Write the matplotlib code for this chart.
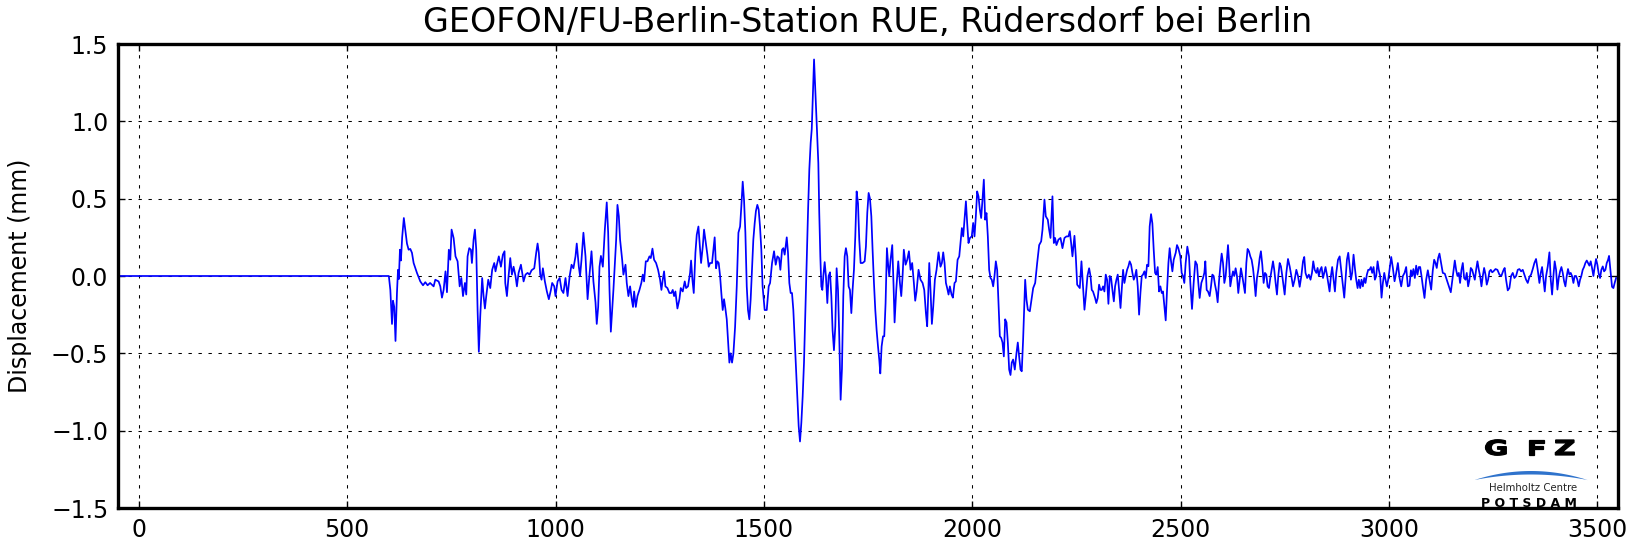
import matplotlib
matplotlib.use('Agg')
import matplotlib.pyplot as plt
import numpy as np
from matplotlib.patches import Polygon, PathPatch
from matplotlib.textpath import TextPath
from matplotlib.font_manager import FontProperties
from matplotlib.transforms import Affine2D

plt.rcParams['font.family'] = ['DejaVu Sans']
plt.rcParams['lines.scale_dashes'] = False

# ---------------- data (time in s, displacement in mm) ----------------
t_a = [-50, 600, 603.6, 607.6, 610, 613, 616, 619.5, 622, 624,
       626.7, 629, 632, 636, 639.5, 643.5, 647.5, 651.5, 655.5, 659.5,
       667.5, 675.5, 682, 687.5, 693, 699, 707.5, 711.5, 719.5, 723.5,
       727.5, 731.5, 736, 739.5, 744, 747.5, 750.6, 755.5, 760, 765,
       770, 774, 778, 782.6, 785.8, 789, 793, 797, 799.4, 803.4,
       806.6, 809.8, 813, 816, 819.4, 824, 827.4, 830.6, 833.8, 838.6,
       843.4, 848, 853, 856, 859.3, 864, 869, 873.7, 877.7]
y_a = [0, 0, -0.09, -0.31, -0.16, -0.2, -0.42, -0.11, 0.04, -0.02,
       0.17, 0.1, 0.25, 0.375, 0.30, 0.21, 0.17, 0.175, 0.15, 0.084,
       0.02, -0.035, -0.06, -0.04, -0.06, -0.045, -0.067, -0.024, -0.035, -0.067,
       -0.14, -0.09, 0.03, -0.105, 0.17, 0.105, 0.30, 0.245, 0.127, 0.095,
       -0.067, -0.013, -0.13, -0.045, -0.12, 0.127, 0.18, 0.17, 0.084, 0.235,
       0.30, 0.17, -0.22, -0.49, -0.26, -0.013, -0.13, -0.21, -0.13, -0.024,
       -0.078, 0.04, 0.084, 0.03, 0.073, 0.127, 0.06, 0.138, 0.16]

t_b = [879.4, 883.4, 887.4, 891.4, 895.4, 899.4, 904, 907.4, 911.4, 917,
       923.4, 928, 933, 937.7, 942.5, 949, 953.7, 957, 960, 963.3,
       966.5, 969.7, 974.5, 979.3, 984, 989, 992, 997, 1000, 1005,
       1010, 1014.5, 1019, 1024, 1029, 1034, 1038.5, 1043, 1048, 1051,
       1056, 1059, 1062.4, 1067, 1072, 1077, 1081.6, 1086.4, 1091, 1096,
       1099, 1102.4, 1105.6, 1109, 1113.6, 1118.4, 1123, 1126.4, 1129.6, 1132.8,
       1136, 1139, 1142.4, 1145.6, 1148.7, 1152, 1155, 1160, 1163, 1168,
       1171, 1175, 1179, 1183]
y_b = [-0.045, -0.13, 0, 0.116, 0.009, 0.06, 0, -0.067, 0.02, 0.073,
       -0.035, 0.009, 0.02, 0.009, 0.037, 0.05, 0.15, 0.21, 0.15, 0.009,
       -0.024, 0.05, -0.035, -0.1, -0.15, -0.09, -0.045, -0.067, -0.13, -0.035,
       -0.013, -0.09, -0.11, -0.013, -0.13, 0, 0.073, 0.05, 0.127, 0.21,
       0.06, 0, 0.105, 0.28, 0.127, -0.15, 0.009, 0.16, -0.035, -0.17,
       -0.31, -0.2, 0.06, 0.13, 0.06, 0.30, 0.476, 0.28, -0.09, -0.36,
       -0.22, -0.09, 0.084, 0.235, 0.46, 0.386, 0.235, 0.105, 0.009, 0.073,
       -0.045, -0.13, -0.067, -0.15]

t_c = [1186, 1188.7, 1192.7, 1196.7, 1201.5, 1206, 1209.5, 1212.6, 1216.7, 1220.7,
       1225.5, 1228.7, 1232.7, 1236.6, 1241.4, 1246.2, 1251, 1254.2, 1257.4, 1260.6,
       1263.8, 1268.6, 1273.4, 1278, 1281.4, 1284.6, 1287.8, 1292.6, 1297.4, 1300.6,
       1305.4, 1310.2, 1313.4, 1318, 1323, 1325.4, 1328.6, 1331.8, 1335.8, 1339,
       1343, 1346, 1349.4, 1353.4, 1356.5, 1359.7, 1364.5, 1367.7, 1371, 1375.7,
       1379, 1382, 1385.3, 1388.5, 1391.7, 1395, 1398, 1401.3, 1404.5, 1407.7,
       1411, 1414, 1417.3, 1420.5, 1423.7, 1427, 1431, 1435, 1439, 1443,
       1446, 1449.3, 1452.5, 1455.7, 1459, 1462, 1465.2, 1468.4, 1471.6, 1474.8,
       1478, 1481, 1484.4, 1487.6, 1490.8, 1494, 1497]
y_c = [-0.2, -0.1, -0.2, -0.13, -0.09, -0.045, 0.009, -0.035, 0.095, 0.095,
       0.127, 0.116, 0.177, 0.105, 0.084, 0.04, -0.024, -0.09, -0.024, 0.03,
       -0.067, -0.078, -0.11, -0.11, -0.09, -0.13, -0.1, -0.21, -0.15, -0.078,
       -0.1, -0.035, -0.078, -0.067, 0.02, 0.1, -0.024, -0.11, 0.15, 0.267,
       0.32, 0.21, 0.084, 0.19, 0.30, 0.235, 0.138, 0.06, 0.084, 0.084,
       0.17, 0.25, 0.05, 0.095, 0.084, 0, -0.11, -0.22, -0.15, -0.21,
       -0.28, -0.41, -0.56, -0.5, -0.56, -0.5, -0.33, -0.067, 0.28, 0.32,
       0.45, 0.61, 0.49, 0.28, -0.067, -0.22, -0.28, -0.15, 0.04, 0.235,
       0.34, 0.42, 0.46, 0.43, 0.32, 0.17, -0.067]

t_d = [1502, 1507, 1511.7, 1515, 1519.7, 1524.5, 1528.5, 1532.5, 1536.5, 1539.7,
       1543.7, 1546.9, 1550, 1555, 1558, 1561.2, 1564.4, 1567.6, 1570.8, 1574,
       1577.2, 1580.4, 1583.6, 1586.8, 1590, 1593.2, 1596.4, 1599.6, 1602.8, 1606,
       1609.2, 1612.4, 1615, 1620.5, 1627.5, 1630.8, 1633, 1635.6, 1638, 1640.4,
       1642.8, 1646, 1649, 1652.4, 1655.5, 1658.8, 1662, 1665, 1668.3, 1671.5,
       1674.7, 1678, 1681, 1684.3, 1687.5, 1690.7, 1694, 1697, 1700.3, 1703.5,
       1706.7, 1710, 1713, 1716.3, 1719.5, 1722.7, 1726, 1729, 1732.3, 1737,
       1742, 1745, 1748.3, 1751.5, 1754.7, 1758, 1761, 1764.3, 1767.5, 1770.7,
       1774, 1777, 1779.5, 1782.7, 1786, 1789, 1792.2, 1795.4, 1798.6, 1801,
       1804.2, 1808.2, 1811.4]
y_d = [-0.22, -0.22, -0.067, -0.045, 0.084, 0.16, 0.073, 0.127, 0.116, 0.04,
       0.17, 0.18, 0.138, 0.25, 0.15, -0.045, -0.11, -0.11, -0.22, -0.41,
       -0.6, -0.78, -0.97, -1.07, -0.95, -0.78, -0.56, -0.24, 0.084, 0.41,
       0.69, 0.86, 0.95, 1.40, 0.95, 0.73, 0.41, 0.127, -0.067, -0.09,
       0, 0.09, 0, -0.175, 0, 0.024, -0.13, -0.35, -0.48, -0.325,
       0.05, -0.09, -0.39, -0.8, -0.6, -0.13, 0.127, 0.18, 0.127, -0.067,
       -0.09, -0.24, -0.09, 0.04, 0.256, 0.547, 0.47, 0.235, 0.084, 0.084,
       0.095, 0.19, 0.41, 0.537, 0.5, 0.386, 0.17, -0.045, -0.22, -0.35,
       -0.455, -0.54, -0.63, -0.455, -0.39, -0.39, -0.175, 0.18, 0.063, 0,
       0.105, 0.2, -0.067]

t_e = [1813.8, 1817.8, 1822.6, 1826.6, 1829.8, 1833, 1836, 1840.2, 1844.2, 1848.2,
       1852.2, 1856, 1860.1, 1863.3, 1866.5, 1871.3, 1876, 1881, 1885, 1889,
       1892, 1897, 1900, 1903.3, 1906.5, 1910.5, 1914.5, 1919.3, 1924, 1927.3,
       1930.5, 1933.7, 1937, 1940, 1943.3, 1946.5, 1950.5, 1953.7, 1957.7, 1960.9,
       1965, 1969, 1972, 1975.3, 1978.5, 1981.7, 1985, 1988, 1991.2, 1994.4,
       1999, 2002.4, 2005.6, 2008.8, 2012, 2015.2, 2018.4, 2021.6, 2024.8, 2028,
       2031.2, 2034.4, 2037.6, 2040.8, 2044, 2047, 2050.4, 2053.6, 2056.8, 2060,
       2063.2, 2066.4, 2069.6, 2072.8, 2076, 2079.2, 2082.4, 2085.6, 2088.8, 2092,
       2095, 2098.3, 2102.3, 2106.3, 2109.5, 2112.7, 2116, 2119, 2122.3]
y_e = [-0.30, -0.09, 0.095, -0.045, -0.13, 0, 0.17, 0.073, 0.105, 0.16,
       0.04, 0.084, -0.045, -0.16, -0.1, 0.04, -0.024, -0.045, -0.09, -0.24,
       -0.325, 0.084, -0.09, -0.31, -0.2, -0.024, 0.04, 0.153, 0.06, 0.084,
       0.153, 0.084, -0.045, -0.078, -0.12, -0.067, -0.12, -0.14, -0.045, -0.035,
       0.105, 0.127, 0.213, 0.31, 0.256, 0.364, 0.483, 0.343, 0.213, 0.245,
       0.256, 0.343, 0.256, 0.386, 0.547, 0.515, 0.43, 0.375, 0.494, 0.623,
       0.364, 0.407, 0.256, 0.04, -0.013, -0.024, -0.067, 0, 0.095, 0.04,
       -0.175, -0.39, -0.4, -0.43, -0.52, -0.28, -0.30, -0.43, -0.605, -0.64,
       -0.56, -0.54, -0.605, -0.5, -0.43, -0.52, -0.605, -0.616, -0.41]

t_f = [2127.2, 2130.4, 2133.6, 2138.4, 2142.4, 2146.4, 2151.2, 2156, 2160.8, 2165.6,
       2168.8, 2173.5, 2176.7, 2181.5, 2184.7, 2188, 2192.7, 2196, 2199, 2202.3,
       2207, 2212, 2216.7, 2221.5, 2226.3, 2231, 2234.3, 2237.5, 2240.7, 2245.5,
       2248.7, 2252, 2255, 2258.3, 2262.3, 2265.5, 2269.5, 2272.7, 2276.7, 2280.7,
       2284, 2287, 2290, 2295, 2298, 2301.4, 2304.6, 2307.8, 2311, 2314.2,
       2317.4, 2320.6, 2323.8, 2327, 2330.2, 2333.4, 2336.6, 2340, 2343, 2346.2,
       2349.4, 2352.6, 2356, 2359, 2362.2, 2365.4, 2368.6, 2371.8, 2375, 2378,
       2381.4, 2384.6, 2387.8, 2391, 2394, 2397.4, 2400.6, 2403.8, 2407, 2410,
       2413.4, 2416.6, 2419.7, 2423]
y_f = [-0.024, -0.153, -0.218, -0.228, -0.153, -0.078, -0.045, 0.084, 0.2, 0.224,
       0.3, 0.494, 0.386, 0.364, 0.3, 0.246, 0.515, 0.213, 0.246, 0.2,
       0.235, 0.246, 0.18, 0.246, 0.256, 0.256, 0.29, 0.213, 0.127, 0.26,
       0.127, -0.056, -0.067, -0.078, 0.095, -0.045, -0.218, -0.13, 0, 0.05,
       0, -0.09, -0.1, -0.142, -0.175, -0.142, -0.056, -0.09, -0.09, -0.067,
       -0.1, 0.009, -0.024, -0.18, 0, -0.013, -0.09, -0.164, -0.067, -0.024,
       0.009, -0.09, -0.207, -0.09, 0.04, -0.045, 0, 0.04, 0.063, 0.095,
       0.073, 0.02, -0.024, 0, 0.04, -0.067, -0.25, -0.11, 0, 0.009,
       0.03, -0.013, 0.073, 0.063]

t_g = [2426, 2429.3, 2432.5, 2435.7, 2439, 2442, 2445.3, 2448.5, 2451.7, 2455,
       2458, 2461.3, 2464.5, 2467.7, 2471, 2474, 2477.3, 2480.5, 2483.7, 2488.5,
       2491.6, 2494.8, 2499.6, 2502.8, 2506, 2509.2, 2512.4, 2516.4, 2520.4, 2523.6,
       2527.6, 2531.6, 2535.6, 2539.6, 2542.8, 2546, 2550, 2554, 2557.2, 2559.6,
       2562.8, 2566, 2570, 2573.2, 2576.4, 2579.6, 2582.8, 2586, 2589.2, 2592.4,
       2595.6, 2598.8, 2602, 2605.2, 2608.4, 2611.6, 2614, 2616.3, 2619.5, 2622.7,
       2626, 2629, 2632.3, 2635.5, 2638.7, 2642, 2645, 2648.3, 2651.5, 2654.7,
       2658, 2661, 2664.3, 2667.5, 2670.7, 2674, 2677, 2680.3, 2683.5, 2686.7,
       2690, 2693, 2696.3, 2699.5, 2702.7, 2706, 2709, 2712.3, 2715.5, 2718.7,
       2722, 2725, 2728.3, 2731.5, 2734.7, 2738, 2741, 2744.3]
y_g = [0.32, 0.40, 0.34, 0.17, 0.02, 0.009, 0.058, -0.1, -0.067, -0.11,
       -0.1, -0.196, -0.287, -0.09, 0.084, 0.18, 0.095, 0.03, 0.105, 0.15,
       0.2, 0.18, 0.127, 0.02, 0, -0.045, 0.084, 0.19, 0.127, -0.045,
       -0.213, -0.045, 0.095, 0.073, -0.045, -0.142, -0.045, -0.013, 0.02, 0.095,
       -0.09, -0.1, -0.13, -0.067, 0.009, 0, -0.056, -0.1, -0.17, -0.035,
       0.063, 0.145, 0.084, -0.045, 0, 0.116, 0.2, 0.105, -0.067, -0.013,
       0.03, 0, 0.05, 0, -0.11, -0.024, 0.05, 0, -0.056, -0.11,
       0.084, 0.175, 0.16, 0.127, 0.105, 0.05, -0.024, -0.13, -0.013, 0.04,
       0.116, 0.16, 0.073, -0.045, 0.02, 0.009, -0.067, -0.078, -0.013, 0.04,
       0.095, 0.04, -0.045, -0.12, 0, 0.084, 0.063, 0]

t_h = [2750, 2754, 2758, 2762, 2766, 2770, 2774, 2778, 2782, 2786,
       2790, 2794, 2797, 2800, 2804, 2808, 2812, 2815.5, 2818.6, 2822,
       2826, 2829, 2832, 2835.4, 2838.6, 2842, 2845, 2848, 2851.4, 2854.6,
       2857.8, 2861, 2864, 2867.4, 2870.6, 2873.8, 2878, 2882, 2886, 2890,
       2893, 2896, 2899.4, 2902.6, 2906, 2909, 2912, 2915.3, 2918.5, 2921.7,
       2925, 2928, 2931.3, 2934.5, 2937.7, 2941, 2944, 2947.3, 2950.5, 2953.7,
       2957, 2960, 2963.3, 2966.5, 2969.7, 2973, 2976, 2979.3, 2982.5, 2985.7,
       2989, 2992, 2995.3, 2998.5, 3001.7, 3005.7, 3009.7, 3013.7, 3017.7, 3021.7,
       3025.7, 3029.7, 3033.7, 3037.7, 3041.6, 3045.6]
y_h = [-0.12, 0.02, 0.11, 0.062, 0, -0.067, -0.024, 0.04, 0, -0.07,
       0, 0.095, 0.123, 0.02, -0.013, 0.009, -0.024, 0.02, 0.095, 0.04,
       0.02, 0.052, 0, 0.04, 0.058, -0.013, 0.02, 0.058, 0.009, -0.045,
       -0.1, 0, 0.058, -0.024, -0.1, 0.02, 0.105, 0.127, 0.03, -0.067,
       -0.14, -0.024, 0.105, 0.15, 0.062, -0.024, 0.02, 0.138, 0.052, -0.024,
       -0.078, -0.024, -0.078, -0.024, -0.067, -0.013, -0.045, 0.009, 0.04, 0.04,
       0.058, 0.02, 0.058, -0.024, 0, 0.095, 0.04, 0, -0.14, -0.045,
       0.02, -0.024, -0.067, -0.024, 0.04, 0.123, 0.052, -0.034, 0.02, 0.084,
       -0.013, -0.067, 0, 0.02, 0.058, -0.067]

t_i = [3049.6, 3053, 3056, 3059, 3062.4, 3065.6, 3068.8, 3072, 3075.2, 3078.4,
       3081.6, 3085.6, 3089.6, 3093.6, 3097.6, 3101.6, 3105.6, 3108.8, 3112, 3115,
       3118.3, 3121.5, 3125.5, 3129.5, 3134.3, 3139, 3144, 3148.7, 3153.5, 3158.3,
       3161.5, 3164.7, 3168, 3171, 3174.3, 3177.5, 3180.7, 3184, 3187, 3190.3,
       3193.5, 3196.7, 3200, 3203, 3206.3, 3209.5, 3212.7, 3216, 3219, 3222.3,
       3225.5, 3228.7, 3232, 3235, 3238.3, 3241.5, 3244.7, 3248, 3251, 3256,
       3260.6, 3265.4, 3270, 3275, 3278, 3281.4, 3285.4, 3289.4, 3293.4, 3297.4,
       3301.4, 3305.4, 3309.4, 3313.4, 3317.4, 3321.4, 3325.4, 3329.4, 3333.4, 3337.4,
       3341.4, 3345.4, 3349.3, 3353.3, 3357.3]
y_i = [-0.062, 0.037, 0, 0.045, -0.013, 0.067, 0.009, 0.058, 0.058, 0,
       -0.067, -0.142, -0.024, 0.037, -0.024, -0.088, 0.04, 0.105, 0.084, 0.052,
       0.116, 0.145, 0.084, 0.02, 0.015, -0.024, -0.067, -0.105, 0, 0.1,
       0.04, 0, 0.02, -0.045, 0.04, 0.084, -0.013, -0.024, 0.02, -0.067,
       -0.024, 0.052, 0.04, 0.009, -0.024, 0.04, 0.095, 0.04, 0, -0.067,
       0, 0.052, 0.009, -0.056, -0.024, 0.03, 0.04, 0.024, 0.03, 0.045,
       0.04, 0.009, 0, 0.037, 0.052, -0.024, -0.093, -0.078, 0, 0.02,
       -0.013, 0, 0.04, 0.045, 0.03, 0.04, 0.009, -0.024, -0.045, -0.006,
       0.009, 0.045, 0.084, 0.11, 0.04]

t_j = [3361.4, 3364.6, 3367.8, 3371, 3374.2, 3377.4, 3381.4, 3385.4, 3388.6, 3391.8,
       3395, 3398, 3401.4, 3404.6, 3407.8, 3411, 3414.2, 3417.4, 3420.6, 3423.8,
       3427, 3430, 3433.3, 3436.5, 3439.7, 3443, 3446, 3449.3, 3452.5, 3455.7,
       3459, 3462, 3465.3, 3468.5, 3471.7, 3475, 3478, 3481.3, 3484.5, 3487.7,
       3491, 3494, 3497.3, 3500.5, 3503.7, 3507, 3510, 3513.4, 3516.6, 3519.8,
       3523, 3526.2, 3528.5, 3531.8, 3535.7, 3539, 3542, 3545.4]
y_j = [-0.045, 0.02, 0.058, -0.024, -0.1, 0, 0.062, 0.153, -0.024, -0.12,
       0, 0.095, 0.04, -0.088, -0.013, 0.03, 0.058, 0.02, -0.034, -0.067,
       0, 0.045, 0.009, 0.02, 0, -0.045, 0, 0, -0.024, -0.067,
       -0.024, 0, 0.04, 0.058, 0.084, 0.1, 0.084, 0.067, 0.095, 0.052,
       0, 0.058, 0.11, 0.073, 0.015, -0.013, 0.04, 0.062, 0.03, 0.04,
       0.084, 0.105, 0.13, 0.04, -0.07, -0.078, -0.045, -0.013]

segments = [(t_a, y_a), (t_b, y_b), (t_c, y_c), (t_d, y_d), (t_e, y_e),
            (t_f, y_f), (t_g, y_g), (t_h, y_h), (t_i, y_i), (t_j, y_j)]
for k, (tt, yy) in enumerate(segments):
    assert len(tt) == len(yy), (k, len(tt), len(yy))
time_s = np.concatenate([np.asarray(s[0], float) for s in segments])
disp_mm = np.concatenate([np.asarray(s[1], float) for s in segments])

x_ticks = [0, 500, 1000, 1500, 2000, 2500, 3000, 3500]
y_ticks = [-1.5, -1.0, -0.5, 0.0, 0.5, 1.0, 1.5]
title = "GEOFON/FU-Berlin-Station RUE, Rüdersdorf bei Berlin"
ylabel = "Displacement (mm)"

# ---------------- figure ----------------
W, H = 1638, 546
fig = plt.figure(figsize=(W / 100, H / 100), dpi=100)
fig.patch.set_facecolor('white')
ax = fig.add_axes([118 / W, 1 - 508 / H, 1500 / W, 464 / H])

ax.plot(time_s, disp_mm, color='#0000ff', lw=1.25, zorder=3)
ax.set_xlim(-50, 3550)
ax.set_ylim(-1.5, 1.5)
ax.set_xticks(x_ticks)
ax.set_yticks(y_ticks)
ax.set_xticklabels([str(v) for v in x_ticks])
ax.set_yticklabels([f"{v:.1f}".replace('-', '\u2212') for v in y_ticks])

ax.grid(True, color='k', lw=0.75, linestyle=(0, (2.4, 4.8)), zorder=1)
ax.set_axisbelow(True)
ax.tick_params(direction='in', length=5, width=1, top=True, right=True,
               labelsize=17, pad=7, colors='k')
for s in ax.spines.values():
    s.set_linewidth(2.4)
    s.set_zorder(5)

ax.set_title(title, fontsize=24, pad=9)
ax.set_ylabel(ylabel, fontsize=17)
ax.yaxis.set_label_coords(-0.0573, 0.5)

# ---------------- GFZ logo ----------------
def fx(px):
    return px / W

def fy(py):
    return 1 - py / H

bold = FontProperties(family='DejaVu Sans', weight='bold')
for letter, left in zip("GFZ", [1484, 1526, 1554]):
    tp = TextPath((0, 0), letter, size=20.6, prop=bold)
    tr = Affine2D().scale(1.45, 1.0).translate(left, H - 455)
    fig.patches.append(PathPatch(tp, transform=tr, facecolor='k',
                                 edgecolor='k', lw=0.9, zorder=6))

xs = np.linspace(1475, 1588, 60)
u = (xs - 1531) / 56.5
upper = 471 + 9 * u ** 2
lower = 474.5 + 5.5 * u ** 2
poly = np.vstack([np.column_stack([fx(xs), fy(upper)]),
                  np.column_stack([fx(xs[::-1]), fy(lower[::-1])])])
fig.patches.append(Polygon(poly, closed=True, transform=fig.transFigure,
                           facecolor='#2f73cc', edgecolor='none', zorder=6))

fig.text(fx(1533), fy(491), "Helmholtz Centre", fontsize=7.3, ha='center',
         va='baseline', color='#222222', zorder=6)
ax.text((1529 - 118) / 1500, (508 - 507) / 464, "P O T S D A M",
        transform=ax.transAxes, fontsize=9, fontweight='bold', ha='center',
        va='baseline', color='k', clip_on=True, zorder=4)

fig.savefig('out.png', dpi=100, facecolor='white')
